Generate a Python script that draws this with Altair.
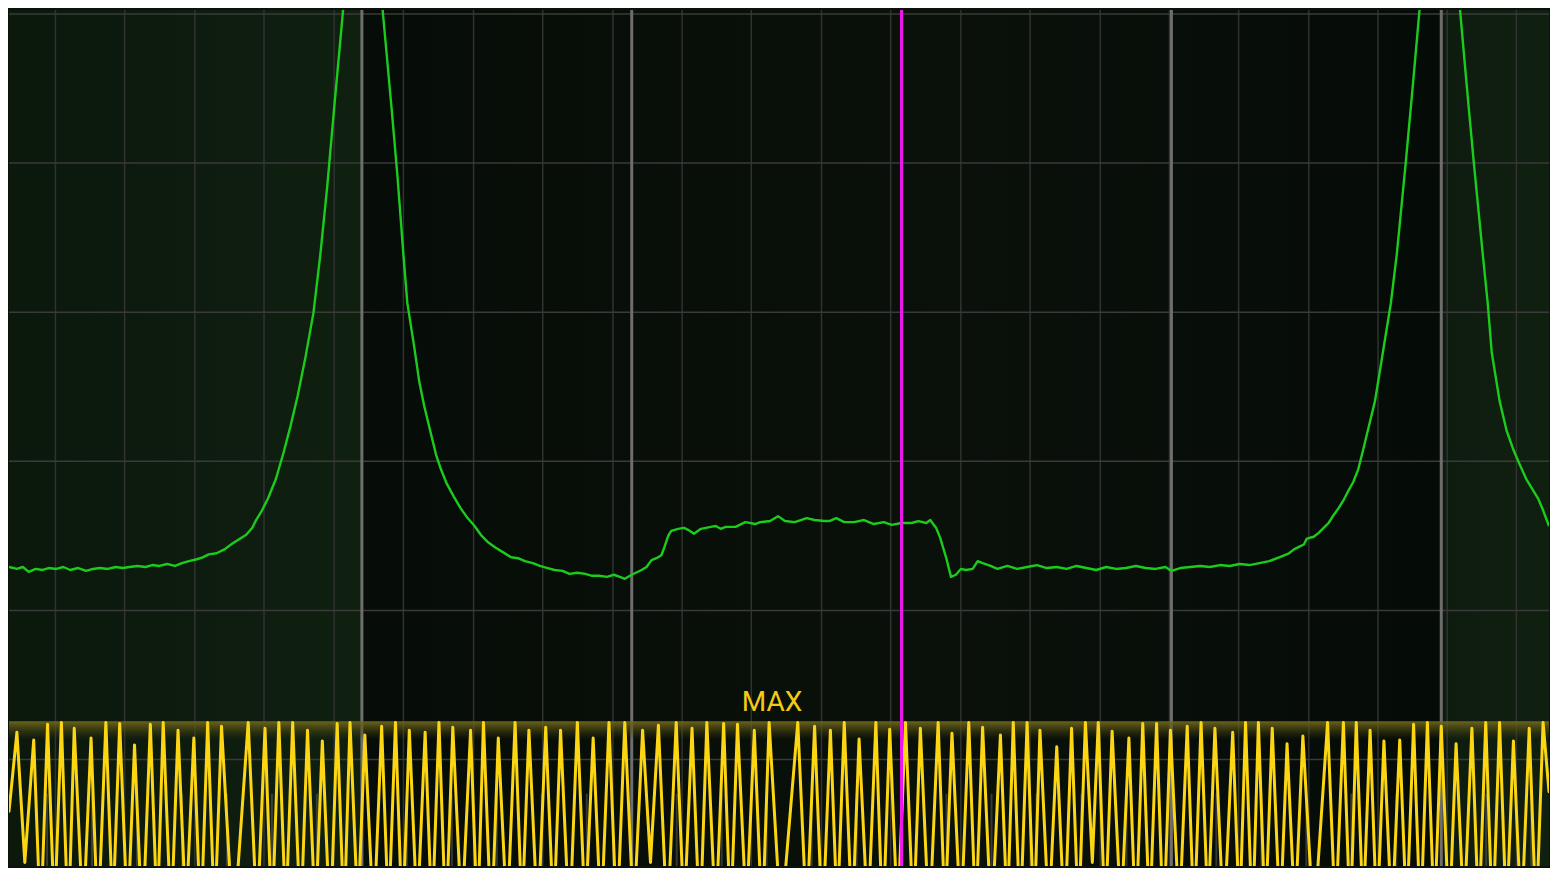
import altair as alt
import pandas as pd

# ---------------- layout ----------------
W, H = 1542, 860
BIN_MIN, BIN_MAX = 0, 1558          # FFT bins across the screen
DB_TOP, DB_BOTTOM = 0.26, -57.14    # level (dB) at top / bottom of screen

# ---------------- spectrum trace (green) ----------------
green_bin = [
    0, 8, 14, 20, 27, 34, 40, 48, 55, 62, 70, 78, 85, 92, 100, 108, 115, 122, 130, 138,
    145, 152, 160, 168, 175, 182, 190, 196, 202, 210, 218, 226, 232, 240, 246, 250, 256, 262, 270, 278,
    285, 292, 300, 308, 315, 322, 329, 338, 357, 378, 387, 393, 399, 403, 410, 415, 420, 426, 432, 437,
    443, 450, 457, 464, 471, 478, 485, 492, 500, 508, 515, 522, 530, 537, 545, 552, 560, 567, 575, 583,
    590, 597, 605, 612, 618, 623, 630, 640, 645, 650, 655, 660, 663, 667, 670, 677, 683, 687, 693, 700,
    710, 715, 720, 725, 735, 745, 755, 760, 770, 778, 785, 795, 807, 815, 825, 830, 837, 845, 855, 865,
    875, 885, 893, 903, 913, 920, 928, 932, 938, 942, 948, 953, 958, 963, 968, 975, 980, 985, 993, 1000,
    1010, 1020, 1030, 1040, 1050, 1060, 1070, 1080, 1090, 1100, 1110, 1120, 1130, 1140, 1150, 1160, 1170, 1176, 1185, 1195,
    1205, 1215, 1225, 1235, 1245, 1255, 1265, 1275, 1285, 1295, 1300, 1306, 1310, 1313, 1320, 1325, 1330, 1335, 1340, 1345,
    1350, 1355, 1360, 1365, 1370, 1376, 1382, 1390, 1398, 1404, 1413, 1420, 1427, 1448, 1468, 1475, 1482, 1491, 1496, 1500,
    1508, 1515, 1522, 1527, 1535, 1541, 1547, 1552, 1558,
]
green_db = [
    -37.09, -37.22, -37.09, -37.42, -37.22, -37.29, -37.16, -37.22, -37.09, -37.29, -37.16, -37.35, -37.22, -37.16, -37.22, -37.09, -37.16, -37.09, -37.02, -37.09,
    -36.96, -37.02, -36.89, -37.02, -36.83, -36.70, -36.57, -36.44, -36.24, -36.17, -35.91, -35.52, -35.26, -34.93, -34.47, -33.94, -33.29, -32.50, -31.19, -29.36,
    -27.59, -25.62, -23.00, -20.05, -16.12, -11.53, -6.29, 0.26, 14.35, 0.26, -6.29, -10.88, -16.12, -19.40, -22.35, -24.64, -26.28, -27.92, -29.55, -30.54,
    -31.52, -32.37, -33.16, -33.81, -34.34, -34.99, -35.45, -35.78, -36.11, -36.44, -36.50, -36.70, -36.83, -37.02, -37.16, -37.29, -37.35, -37.55, -37.48, -37.55,
    -37.68, -37.68, -37.75, -37.61, -37.75, -37.88, -37.61, -37.29, -37.09, -36.63, -36.50, -36.30, -35.78, -34.99, -34.67, -34.53, -34.47, -34.60, -34.86, -34.53,
    -34.40, -34.34, -34.53, -34.40, -34.40, -34.08, -34.21, -34.08, -34.01, -33.68, -34.01, -34.08, -33.81, -33.94, -34.01, -34.01, -33.81, -34.08, -34.08, -33.94,
    -34.21, -34.08, -34.27, -34.14, -34.14, -34.01, -34.14, -33.94, -34.47, -35.12, -36.44, -37.75, -37.61, -37.22, -37.29, -37.22, -36.70, -36.83, -37.02, -37.22,
    -37.02, -37.22, -37.09, -36.96, -37.16, -37.09, -37.22, -37.02, -37.16, -37.29, -37.09, -37.22, -37.16, -37.02, -37.16, -37.22, -37.09, -37.35, -37.16, -37.09,
    -37.02, -37.09, -36.96, -37.02, -36.89, -36.96, -36.83, -36.70, -36.44, -36.17, -35.91, -35.71, -35.58, -35.19, -35.06, -34.80, -34.47, -34.14, -33.62, -33.16,
    -32.63, -31.98, -31.39, -30.54, -29.23, -27.59, -25.95, -22.67, -19.40, -16.12, -10.03, -4.98, 0.26, 15.33, 0.26, -4.98, -10.03, -16.12, -19.40, -22.67,
    -25.95, -27.92, -29.23, -30.01, -31.19, -31.85, -32.50, -33.29, -34.34,
]
assert len(green_bin) == len(green_db)

# ---------------- time-domain trace (yellow) ----------------
yellow_start = (0, -53.47)
yellow_end = (1558, -52.16)
yellow_peak_bin = [
    8, 25, 39, 53, 66, 83, 98, 112, 127, 143, 156, 171, 187, 201, 215, 242, 259, 273, 287, 302,
    317, 332, 345, 360, 377, 391, 405, 421, 435, 449, 467, 480, 495, 512, 526, 543, 558, 575, 591, 607,
    623, 641, 657, 675, 691, 706, 723, 737, 754, 769, 798, 815, 831, 845, 860, 877, 891, 907, 922, 940,
    954, 971, 985, 1003, 1016, 1030, 1043, 1060, 1075, 1089, 1102, 1116, 1133, 1147, 1161, 1175, 1192, 1206, 1220, 1238,
    1251, 1264, 1278, 1293, 1309, 1334, 1350, 1363, 1377, 1391, 1407, 1421, 1435, 1449, 1464, 1480, 1494, 1508, 1522, 1538,
    1552,
]
yellow_peak_db = [
    -48.17, -48.69, -47.64, -47.51, -47.90, -48.56, -47.51, -47.58, -49.02, -47.64, -47.51, -48.03, -48.56, -47.51, -47.77, -47.51, -47.90, -47.51, -47.51, -48.03,
    -48.75, -47.58, -47.51, -48.36, -47.77, -47.51, -48.03, -48.17, -47.51, -47.84, -48.03, -47.51, -48.56, -47.51, -48.03, -47.84, -48.03, -47.51, -48.56, -47.51,
    -47.51, -48.03, -47.71, -47.51, -47.90, -47.51, -47.58, -47.64, -48.03, -47.51, -47.51, -47.77, -48.03, -47.51, -48.62, -47.51, -47.97, -47.51, -47.90, -47.51,
    -48.23, -47.51, -47.84, -48.36, -47.51, -47.51, -48.03, -49.15, -47.90, -47.51, -47.51, -48.10, -48.56, -47.58, -47.58, -48.03, -47.77, -47.51, -47.90, -48.17,
    -47.51, -47.51, -47.90, -48.95, -48.43, -47.51, -47.51, -47.51, -48.03, -48.75, -48.69, -47.64, -47.51, -47.77, -48.95, -47.90, -47.51, -47.51, -48.75, -47.90,
    -47.51,
]
yellow_trough_bin = [
    16, 32, 46, 60, 75, 90, 105, 120, 135, 150, 164, 179, 194, 208, 227, 251, 266, 280, 295, 310,
    325, 339, 353, 369, 384, 398, 413, 428, 442, 458, 474, 488, 504, 519, 535, 551, 567, 583, 599, 615,
    632, 649, 666, 683, 699, 715, 730, 746, 762, 781, 807, 823, 838, 853, 869, 884, 899, 915, 931, 947,
    963, 978, 994, 1010, 1023, 1037, 1052, 1068, 1082, 1096, 1109, 1125, 1140, 1154, 1168, 1184, 1199, 1213, 1229, 1245,
    1258, 1271, 1286, 1301, 1320, 1342, 1357, 1370, 1384, 1399, 1414, 1428, 1442, 1457, 1472, 1487, 1501, 1515, 1530, 1545,
]
yellow_trough_db = [
    -56.9, -61.2, -60.6, -61.5, -60.9, -61.3, -60.4, -61.0, -61.6, -60.7,
    -61.1, -60.5, -61.4, -60.8, -61.7, -60.9, -61.2, -60.6, -61.3, -60.8,
    -61.5, -60.9, -60.4, -61.1, -60.7, -61.4, -60.6, -61.0, -61.3, -60.8,
    -61.2, -61.6, -60.9, -60.5, -61.1, -60.8, -61.4, -60.6, -61.0, -61.3,
    -60.7, -56.9, -61.2, -60.6, -61.5, -60.9, -61.1, -60.4, -61.3, -61.0,
    -60.8, -61.4, -60.6, -61.2, -60.9, -61.5, -60.7, -61.0, -61.3, -60.5,
    -61.1, -60.8, -61.4, -60.6, -61.2, -61.0, -60.7, -61.3, -60.9, -56.9,
    -61.0, -60.6, -61.3, -60.9, -61.5, -60.7, -61.1, -60.4, -61.2, -60.8,
    -61.4, -60.9, -61.0, -60.6, -61.3, -60.8, -61.2, -60.5, -61.1, -60.9,
    -60.7, -61.3, -60.9, -61.2, -60.6, -61.0, -61.4, -60.8, -61.1, -60.9,
]
assert len(yellow_peak_bin) == len(yellow_peak_db) == len(yellow_trough_bin) + 1 == len(yellow_trough_db) + 1

# ---------------- graticule / markers ----------------
h_grid_db = [0, -10, -20, -30, -40, -50]
minor_grid_bins = [47, 117, 188, 258, 329, 399, 470, 540, 611, 681, 751, 822, 892, 963,
                   1033, 1104, 1174, 1244, 1315, 1385, 1455, 1525]
major_grid_bins = [357, 630, 903, 1176, 1449]
lower_tick_bins = [38.5, 84, 129.5, 175, 220.5, 266, 311.5, 402.5, 448, 493.5, 539, 584.5,
                   675.5, 721, 766.5, 812, 857.5, 948.5, 994, 1039.5, 1085, 1130.5, 1221.5,
                   1267, 1312.5, 1358, 1403.5, 1494.5, 1540]
lower_tick_top_db = -52.29
marker_bin = 903
max_level_db = -47.44
max_band_bottom_db = -48.70
max_label = "MAX"
max_label_bin = 772
max_label_db = -46.72

# ---------------- tables ----------------
green_df = pd.DataFrame({"bin": green_bin, "db": green_db})
ybins, ydbs = [yellow_start[0]], [yellow_start[1]]
for i in range(len(yellow_peak_bin)):
    ybins.append(yellow_peak_bin[i]); ydbs.append(yellow_peak_db[i])
    if i < len(yellow_trough_bin):
        ybins.append(yellow_trough_bin[i]); ydbs.append(yellow_trough_db[i])
ybins.append(yellow_end[0]); ydbs.append(yellow_end[1])
yellow_df = pd.DataFrame({"bin": ybins, "db": ydbs})

xs = alt.Scale(domain=[BIN_MIN, BIN_MAX], nice=False, zero=False)
ys = alt.Scale(domain=[DB_BOTTOM, DB_TOP], nice=False, zero=False)
one = pd.DataFrame({"k": [0]})

bg = alt.Chart(one).mark_rect(
    color=alt.Gradient(
        gradient="linear", x1=0, x2=1, y1=0, y2=0,
        stops=[
            alt.GradientStop(offset=0.0, color="#0b180c"),
            alt.GradientStop(offset=0.15, color="#0e1d0f"),
            alt.GradientStop(offset=0.228, color="#10200f"),
            alt.GradientStop(offset=0.2292, color="#060c07"),
            alt.GradientStop(offset=0.42, color="#080e08"),
            alt.GradientStop(offset=0.62, color="#0a100a"),
            alt.GradientStop(offset=0.80, color="#070d08"),
            alt.GradientStop(offset=0.9295, color="#050b06"),
            alt.GradientStop(offset=0.9302, color="#0e1c0f"),
            alt.GradientStop(offset=1.0, color="#10200f"),
        ],
    )
).encode(
    x=alt.X(datum=BIN_MIN, scale=xs, axis=None),
    x2=alt.X2(datum=BIN_MAX),
    y=alt.Y(datum=DB_TOP, scale=ys, axis=None),
    y2=alt.Y2(datum=DB_BOTTOM),
)

hgrid = alt.Chart(pd.DataFrame({"db": h_grid_db})).mark_rule(
    color="#3a3a3a", strokeWidth=1.5
).encode(y=alt.Y("db:Q", scale=ys, axis=None))

minor = alt.Chart(pd.DataFrame({"bin": minor_grid_bins})).mark_rule(
    color="#303330", strokeWidth=1.5
).encode(x=alt.X("bin:Q", scale=xs, axis=None))

lower = alt.Chart(pd.DataFrame({"bin": lower_tick_bins})).mark_rule(
    color="#555555", strokeWidth=2, opacity=0.6
).encode(
    x=alt.X("bin:Q", scale=xs, axis=None),
    y=alt.Y(datum=lower_tick_top_db, scale=ys, axis=None),
    y2=alt.Y2(datum=DB_BOTTOM),
)

major = alt.Chart(pd.DataFrame({"bin": major_grid_bins})).mark_rule(
    color="#6e6e6e", strokeWidth=3
).encode(x=alt.X("bin:Q", scale=xs, axis=None))

band = alt.Chart(one).mark_rect(
    color=alt.Gradient(
        gradient="linear", x1=0, x2=0, y1=0, y2=1,
        stops=[
            alt.GradientStop(offset=0.0, color="rgba(112,104,26,0.95)"),
            alt.GradientStop(offset=0.4, color="rgba(90,84,22,0.6)"),
            alt.GradientStop(offset=1.0, color="rgba(60,58,16,0)"),
        ],
    )
).encode(
    x=alt.X(datum=BIN_MIN, scale=xs, axis=None),
    x2=alt.X2(datum=BIN_MAX),
    y=alt.Y(datum=max_level_db, scale=ys, axis=None),
    y2=alt.Y2(datum=max_band_bottom_db),
)

yellow = alt.Chart(yellow_df).mark_line(
    color="#fcd613", strokeWidth=3, strokeJoin="round", strokeCap="round", clip=True
).encode(
    x=alt.X("bin:Q", scale=xs, axis=None),
    y=alt.Y("db:Q", scale=ys, axis=None),
)

green = alt.Chart(green_df).mark_line(
    color="#1ccc1c", strokeWidth=2.4, strokeJoin="round", clip=True
).encode(
    x=alt.X("bin:Q", scale=xs, axis=None),
    y=alt.Y("db:Q", scale=ys, axis=None),
)

marker = alt.Chart(pd.DataFrame({"bin": [marker_bin]})).mark_rule(
    color="#f014f0", strokeWidth=3
).encode(x=alt.X("bin:Q", scale=xs, axis=None))

label = alt.Chart(one).mark_text(
    text=max_label, font="Roboto", fontSize=28, color="#f2cc14",
    align="center", baseline="alphabetic"
).encode(
    x=alt.X(datum=max_label_bin, scale=xs, axis=None),
    y=alt.Y(datum=max_label_db, scale=ys, axis=None),
)

chart = alt.layer(
    bg, minor, hgrid, lower, major, band, yellow, green, marker, label
).properties(
    width=W, height=H, padding=0, background="#0a120a",
    autosize=alt.AutoSizeParams(type="fit", contains="padding"),
).configure_view(strokeWidth=0)

chart.save("out.html", embed_options={"renderer": "svg", "actions": False})
